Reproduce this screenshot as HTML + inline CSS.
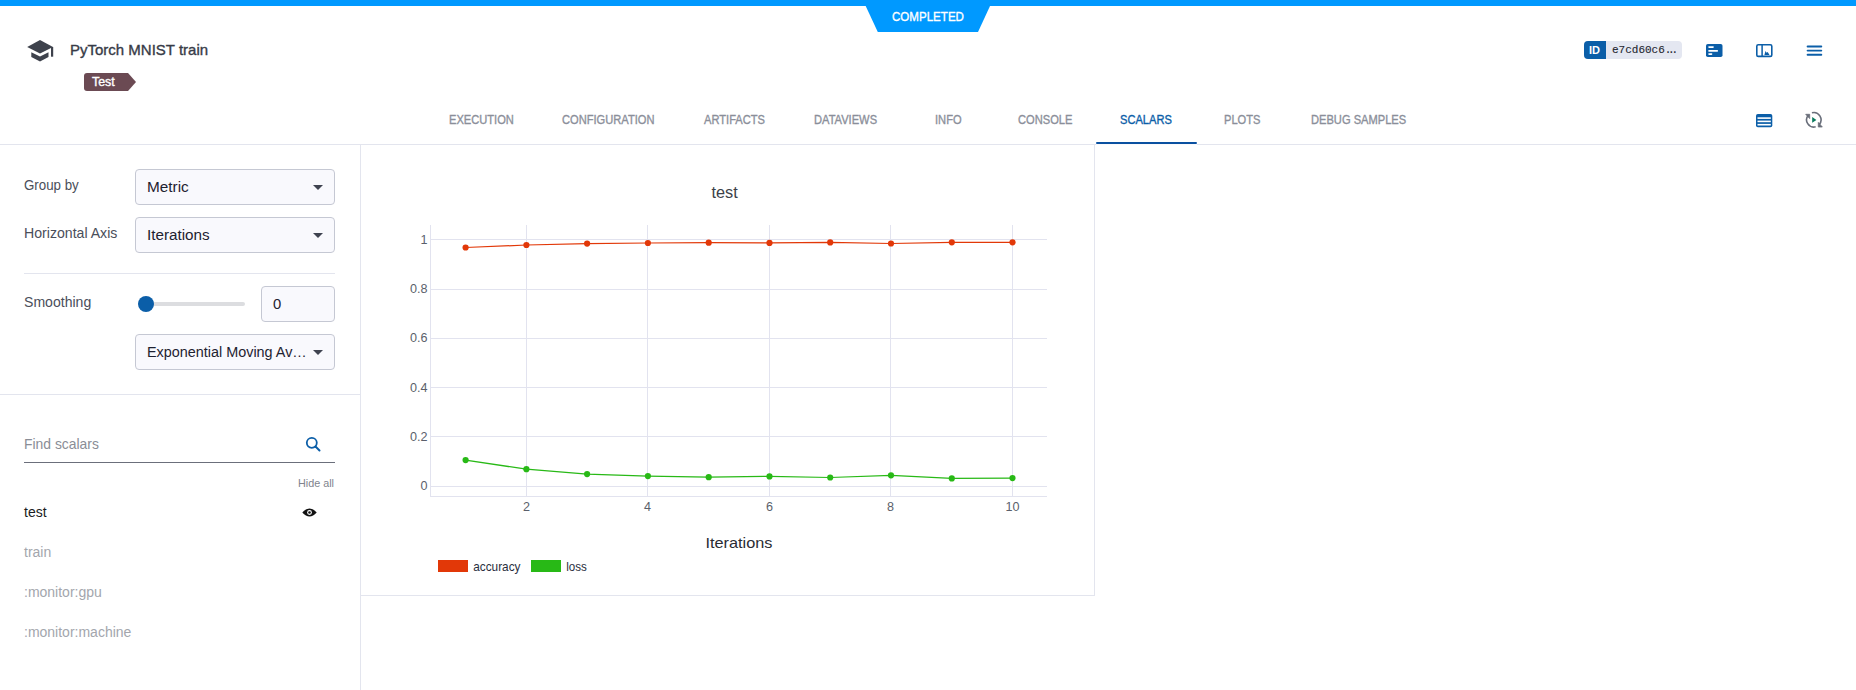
<!DOCTYPE html>
<html><head><meta charset="utf-8"><title>ClearML - PyTorch MNIST train</title>
<style>
*{box-sizing:border-box;margin:0;padding:0}
html,body{width:1856px;height:690px;overflow:hidden;background:#fff;font-family:"Liberation Sans",sans-serif;position:relative}
.a{position:absolute;white-space:nowrap}
.topbar{left:0;top:0;width:1856px;height:6px;background:#0099ff}
.status{left:866px;top:0}
.title{left:70px;top:40.8px;font-size:15px;color:#373b47;line-height:18px;-webkit-text-stroke:0.35px #373b47}
.tab{top:112.8px;font-size:12.5px;color:#8c909b;line-height:15px;letter-spacing:0;transform:scaleX(0.89);transform-origin:0 0;-webkit-text-stroke:0.35px #8a8e99}
.tab.on{color:#0b5ea8;-webkit-text-stroke:0.35px #0b5ea8}
.hline{left:0;top:144px;width:1856px;height:1px;background:#e3e5ee}
.vline{left:360px;top:145px;width:1px;height:545px;background:#e3e5ee}
.lbl{font-size:14.8px;color:#4a4e5a;line-height:17px;transform-origin:0 0}
.sel{background:#f9f9fd;border:1px solid #c5c8d3;border-radius:4px;height:36px;width:200px;left:135px}
.sel .t{position:absolute;left:11px;top:7.6px;font-size:15.4px;color:#1e2230;line-height:17px;transform-origin:0 0}
.caret{position:absolute;right:11px;top:15px;width:0;height:0;border-left:5px solid transparent;border-right:5px solid transparent;border-top:5.5px solid #3f4350}
.item{left:24px;font-size:14px;line-height:16px;color:#a3a6ad}
.tk{font-family:"Liberation Sans",sans-serif;font-size:12.6px;fill:#5b5f6b}
.ttl{font-family:"Liberation Sans",sans-serif;font-size:16.3px;fill:#3c3f48}
.xt{font-family:"Liberation Sans",sans-serif;font-size:14.2px;fill:#2a2c33}
.lg{font-family:"Liberation Sans",sans-serif;font-size:12.2px;fill:#2a2e3e}
</style></head>
<body>
<div class="a topbar"></div>
<svg class="a status" width="134" height="34" viewBox="862 0 134 34" style="left:862px;top:0">
  <polygon points="862.9,0 992.8,0 978,32 877.8,32" fill="#0099ff"/>
</svg>
<div class="a" style="left:892px;top:10px;font-size:12.5px;color:#fff;line-height:14px;transform:scaleX(0.925);transform-origin:0 0;-webkit-text-stroke:0.35px #fff">COMPLETED</div>

<!-- header -->
<svg class="a" style="left:27px;top:40px" width="27" height="22" viewBox="0 0 27 22">
  <path d="M13 0 L26 7 L13 13.6 L0.2 7 Z" fill="#3e424c"/>
  <path d="M4.3 12.2 L13 16.5 L21.5 12.2 L21.5 16.9 L13 21.4 L4.3 16.9 Z" fill="#3e424c"/>
  <rect x="24" y="7" width="2.2" height="9.7" fill="#3e424c"/>
</svg>
<div class="a title">PyTorch MNIST train</div>
<svg class="a" style="left:84px;top:73px" width="53" height="18" viewBox="0 0 53 18">
  <path d="M3 0 H44 L52 9 L44 18 H3 Q0 18 0 15 V3 Q0 0 3 0 Z" fill="#6b4a53"/>
</svg>
<div class="a" style="left:92px;top:74.5px;font-size:12.4px;color:#fff;line-height:14px;-webkit-text-stroke:0.35px #fff">Test</div>

<!-- right header -->
<div class="a" style="left:1584px;top:41px;width:98px;height:18px;border-radius:4px;background:#e4e7f1;overflow:hidden">
  <div style="position:absolute;left:0;top:0;width:22px;height:18px;background:#0b5ea8"></div>
  <div style="position:absolute;left:5px;top:3px;font-size:11px;font-weight:bold;color:#fff;line-height:12px">ID</div>
  <div style="position:absolute;left:28px;top:3px;font-family:'Liberation Mono',monospace;font-size:11px;color:#22252e;line-height:12px;-webkit-text-stroke:0.1px #22252e">e7cd60c6<span style="letter-spacing:-3.3px;margin-left:0px">...</span></div>
</div>
<svg class="a" style="left:1706px;top:44px" width="17" height="14" viewBox="0 0 17 14">
  <rect x="0" y="0" width="16.5" height="13" rx="1.8" fill="#0b5ea8"/>
  <line x1="3" y1="3.1" x2="7.1" y2="3.1" stroke="#fff" stroke-width="1.6" stroke-linecap="round"/>
  <line x1="3" y1="6.9" x2="11.3" y2="6.9" stroke="#fff" stroke-width="1.6" stroke-linecap="round"/>
  <line x1="3" y1="10.1" x2="5.6" y2="10.1" stroke="#fff" stroke-width="1.6" stroke-linecap="round"/>
</svg>
<svg class="a" style="left:1756px;top:44px" width="17" height="14" viewBox="0 0 17 14">
  <rect x="0.8" y="0.8" width="15" height="11.6" rx="1.5" fill="none" stroke="#0b5ea8" stroke-width="1.6"/>
  <line x1="6.1" y1="1" x2="6.1" y2="12.5" stroke="#0b5ea8" stroke-width="1.5"/>
  <path d="M8.4 11 L9.5 6.9 L10.6 8.7 L11.7 7.9 L13.5 11 Z" fill="#0b5ea8"/>
</svg>
<svg class="a" style="left:1806px;top:44px" width="17" height="13" viewBox="0 0 17 13">
  <line x1="1.6" y1="2.5" x2="15.3" y2="2.5" stroke="#0b5ea8" stroke-width="1.9" stroke-linecap="round"/>
  <line x1="1.6" y1="6.6" x2="15.3" y2="6.6" stroke="#0b5ea8" stroke-width="1.9" stroke-linecap="round"/>
  <line x1="1.6" y1="10.8" x2="15.3" y2="10.8" stroke="#0b5ea8" stroke-width="1.9" stroke-linecap="round"/>
</svg>
<svg class="a" style="left:1756px;top:114px" width="17" height="14" viewBox="0 0 17 14">
  <rect x="0" y="0" width="16.3" height="13.2" rx="1.8" fill="#0b5ea8"/>
  <rect x="1.5" y="3.3" width="13.3" height="1.6" fill="#fff"/>
  <rect x="1.5" y="6.6" width="13.3" height="1.6" fill="#fff"/>
  <rect x="1.5" y="9.9" width="13.3" height="1.6" fill="#fff"/>
</svg>
<svg class="a" style="left:1804px;top:110px" width="20" height="20" viewBox="0 0 20 20">
  <path d="M7.94 2.85 A7.2 7.2 0 0 1 15.32 14.43" fill="none" stroke="#696e7a" stroke-width="1.6"/>
  <path d="M14.3 12.4 L14.3 17 L18.3 17 Z" fill="#696e7a" stroke="#696e7a" stroke-width="0.8" stroke-linejoin="round"/>
  <path d="M11.66 16.75 A7.2 7.2 0 0 1 4.28 5.17" fill="none" stroke="#696e7a" stroke-width="1.6"/>
  <path d="M1.7 4.3 L5.7 4.3 L5.7 8.6 Z" fill="#696e7a" stroke="#696e7a" stroke-width="0.8" stroke-linejoin="round"/>
  <path d="M8.2 7 L12.4 9.9 L8.2 12.8 Z" fill="#0a7a5c"/>
</svg>

<!-- tabs -->
<div class="a tab" style="left:449px">EXECUTION</div>
<div class="a tab" style="left:562px">CONFIGURATION</div>
<div class="a tab" style="left:704px">ARTIFACTS</div>
<div class="a tab" style="left:814px">DATAVIEWS</div>
<div class="a tab" style="left:935px">INFO</div>
<div class="a tab" style="left:1018px">CONSOLE</div>
<div class="a tab on" style="left:1120px">SCALARS</div>
<div class="a tab" style="left:1224px">PLOTS</div>
<div class="a tab" style="left:1311px">DEBUG SAMPLES</div>
<div class="a hline"></div>
<div class="a" style="left:1096px;top:142px;width:101px;height:2px;background:#0a50a0;border-radius:1px"></div>
<div class="a" style="left:1096px;top:144px;width:101px;height:1px;background:#fafafd"></div>
<div class="a vline"></div>

<!-- left panel -->
<div class="a lbl" style="left:24px;top:176.5px;transform:scaleX(0.9)">Group by</div>
<div class="a sel" style="top:169px"><span class="t" style="transform:scaleX(0.995)">Metric</span><i class="caret"></i></div>
<div class="a lbl" style="left:24px;top:225.2px;transform:scaleX(0.954)">Horizontal Axis</div>
<div class="a sel" style="top:217px"><span class="t" style="transform:scaleX(0.99)">Iterations</span><i class="caret"></i></div>
<div class="a" style="left:24px;top:273px;width:311px;height:1px;background:#e3e5ee"></div>
<div class="a lbl" style="left:24px;top:293.8px;transform:scaleX(0.95)">Smoothing</div>
<div class="a" style="left:146px;top:302px;width:99px;height:4px;border-radius:2px;background:#dcdde0"></div>
<div class="a" style="left:138px;top:296px;width:16px;height:16px;border-radius:50%;background:#0b5ea8"></div>
<div class="a sel" style="left:261px;top:286px;width:74px;height:36px"><span class="t" style="font-size:14.8px;top:8.5px">0</span></div>
<div class="a sel" style="top:334px"><span class="t" style="transform:scaleX(0.935)">Exponential Moving Av…</span><i class="caret"></i></div>
<div class="a" style="left:0;top:394px;width:360px;height:1px;background:#e3e5ee"></div>

<div class="a" style="left:24px;top:436px;font-size:13.9px;color:#8a8d96;line-height:16px">Find scalars</div>
<svg class="a" style="left:305px;top:436px" width="17" height="17" viewBox="0 0 17 17">
  <circle cx="6.8" cy="6.8" r="5" fill="none" stroke="#0b5ea8" stroke-width="1.8"/>
  <line x1="10.5" y1="10.5" x2="14.5" y2="14.5" stroke="#0b5ea8" stroke-width="2" stroke-linecap="round"/>
</svg>
<div class="a" style="left:24px;top:462px;width:311px;height:1px;background:#6b6f7b"></div>
<div class="a" style="left:298px;top:477px;font-size:10.8px;color:#80838d;line-height:12px">Hide all</div>
<div class="a item" style="top:504px;color:#1a1c22">test</div>
<svg class="a" style="left:302px;top:508px" width="15" height="9" viewBox="0 0 15 9">
  <path d="M0.3 4.5 Q7.5 -3.5 14.7 4.5 Q7.5 12.5 0.3 4.5 Z" fill="#111"/>
  <circle cx="7.5" cy="4.5" r="2.4" fill="#fff"/>
  <circle cx="7.5" cy="4.5" r="1.3" fill="#111"/>
</svg>
<div class="a item" style="top:544px">train</div>
<div class="a item" style="top:584px">:monitor:gpu</div>
<div class="a item" style="top:624px">:monitor:machine</div>

<!-- chart card -->
<div class="a" style="left:361px;top:145px;width:734px;height:451px;border-right:1px solid #e3e5ee;border-bottom:1px solid #e3e5ee"></div>
<svg class="a" style="left:361px;top:145px" width="733" height="450" viewBox="361 145 733 450">
<line x1="430" y1="239.5" x2="1047" y2="239.5" stroke="#e2e3ef" stroke-width="1"/>
<line x1="430" y1="289.5" x2="1047" y2="289.5" stroke="#e2e3ef" stroke-width="1"/>
<line x1="430" y1="338.5" x2="1047" y2="338.5" stroke="#e2e3ef" stroke-width="1"/>
<line x1="430" y1="387.5" x2="1047" y2="387.5" stroke="#e2e3ef" stroke-width="1"/>
<line x1="430" y1="436.5" x2="1047" y2="436.5" stroke="#e2e3ef" stroke-width="1"/>
<line x1="430" y1="486.5" x2="1047" y2="486.5" stroke="#e2e3ef" stroke-width="1"/>
<line x1="526.5" y1="225" x2="526.5" y2="496" stroke="#e2e3ef" stroke-width="1"/>
<line x1="647.5" y1="225" x2="647.5" y2="496" stroke="#e2e3ef" stroke-width="1"/>
<line x1="769.5" y1="225" x2="769.5" y2="496" stroke="#e2e3ef" stroke-width="1"/>
<line x1="890.5" y1="225" x2="890.5" y2="496" stroke="#e2e3ef" stroke-width="1"/>
<line x1="1012.5" y1="225" x2="1012.5" y2="496" stroke="#e2e3ef" stroke-width="1"/>
<line x1="430.5" y1="225" x2="430.5" y2="497" stroke="#e2e3ef" stroke-width="1"/>
<line x1="430" y1="496.5" x2="1047" y2="496.5" stroke="#e2e3ef" stroke-width="1"/>
<polyline points="465.6,247.5 526.4,245.0 587.1,243.6 647.9,243.0 708.7,242.7 769.5,242.9 830.2,242.4 891.0,243.5 951.8,242.3 1012.5,242.3" fill="none" stroke="#e23808" stroke-width="1.25" stroke-linejoin="round"/><circle cx="465.6" cy="247.5" r="3.1" fill="#e23808"/><circle cx="526.4" cy="245.0" r="3.1" fill="#e23808"/><circle cx="587.1" cy="243.6" r="3.1" fill="#e23808"/><circle cx="647.9" cy="243.0" r="3.1" fill="#e23808"/><circle cx="708.7" cy="242.7" r="3.1" fill="#e23808"/><circle cx="769.5" cy="242.9" r="3.1" fill="#e23808"/><circle cx="830.2" cy="242.4" r="3.1" fill="#e23808"/><circle cx="891.0" cy="243.5" r="3.1" fill="#e23808"/><circle cx="951.8" cy="242.3" r="3.1" fill="#e23808"/><circle cx="1012.5" cy="242.3" r="3.1" fill="#e23808"/>
<polyline points="465.6,460.1 526.4,469.2 587.1,474.1 647.9,476.1 708.7,477.2 769.5,476.4 830.2,477.5 891.0,475.3 951.8,478.4 1012.5,478.1" fill="none" stroke="#28b916" stroke-width="1.25" stroke-linejoin="round"/><circle cx="465.6" cy="460.1" r="3.1" fill="#28b916"/><circle cx="526.4" cy="469.2" r="3.1" fill="#28b916"/><circle cx="587.1" cy="474.1" r="3.1" fill="#28b916"/><circle cx="647.9" cy="476.1" r="3.1" fill="#28b916"/><circle cx="708.7" cy="477.2" r="3.1" fill="#28b916"/><circle cx="769.5" cy="476.4" r="3.1" fill="#28b916"/><circle cx="830.2" cy="477.5" r="3.1" fill="#28b916"/><circle cx="891.0" cy="475.3" r="3.1" fill="#28b916"/><circle cx="951.8" cy="478.4" r="3.1" fill="#28b916"/><circle cx="1012.5" cy="478.1" r="3.1" fill="#28b916"/>
<text x="427.5" y="244.0" text-anchor="end" class="tk">1</text>
<text x="427.5" y="293.2" text-anchor="end" class="tk">0.8</text>
<text x="427.5" y="342.4" text-anchor="end" class="tk">0.6</text>
<text x="427.5" y="391.6" text-anchor="end" class="tk">0.4</text>
<text x="427.5" y="440.8" text-anchor="end" class="tk">0.2</text>
<text x="427.5" y="490.0" text-anchor="end" class="tk">0</text>
<text x="526.5" y="511" text-anchor="middle" class="tk">2</text>
<text x="647.5" y="511" text-anchor="middle" class="tk">4</text>
<text x="769.5" y="511" text-anchor="middle" class="tk">6</text>
<text x="890.5" y="511" text-anchor="middle" class="tk">8</text>
<text x="1012.5" y="511" text-anchor="middle" class="tk">10</text>
<text x="724.6" y="198" text-anchor="middle" class="ttl">test</text>
<text x="705.5" y="547.8" class="xt" textLength="67" lengthAdjust="spacingAndGlyphs">Iterations</text>
<rect x="438" y="560" width="30" height="12" fill="#e23808"/>
<text x="473.2" y="570.5" class="lg" textLength="47.3" lengthAdjust="spacingAndGlyphs">accuracy</text>
<rect x="531" y="560" width="30" height="12" fill="#28b916"/>
<text x="566.3" y="570.5" class="lg" textLength="20.6" lengthAdjust="spacingAndGlyphs">loss</text>
</svg>
</body></html>
